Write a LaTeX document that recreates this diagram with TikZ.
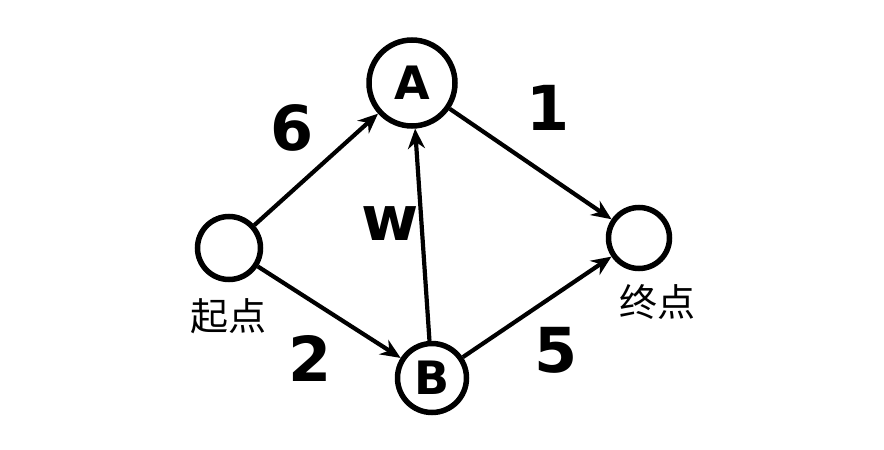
\documentclass[tikz,border=0pt]{standalone}
\usepackage{fontspec}
\setmainfont{DejaVu Sans}
\newfontfamily\cjk{Noto Sans CJK SC}
\usetikzlibrary{arrows.meta}
\begin{document}
\begin{tikzpicture}[x=1pt,y=-1pt,
  vtx/.style={circle,draw,line width=5.5pt,inner sep=0pt,font=\bfseries\fontsize{46}{46}\selectfont},
  edge/.style={line width=4.2pt,-{Stealth[length=20pt,width=17pt]}},
  lbl/.style={font=\bfseries\fontsize{62}{62}\selectfont,inner sep=0pt},
  cn/.style={font=\cjk\fontsize{38}{38}\selectfont,inner sep=0pt}
]
\useasboundingbox[fill=white] (0,0) rectangle (884,450);
\node[vtx,minimum size=63pt] (s) at (229,248) {};
\node[vtx,minimum size=86pt] (A) at (412,83) {A};
\node[vtx,minimum size=69pt] (B) at (432,378) {B};
\node[vtx,minimum size=61pt] (t) at (639,238) {};
\draw[edge] (s) -- (A);
\draw[edge] (s) -- (B);
\draw[edge] (A) -- (t);
\draw[edge] (B) -- (t);
\draw[edge] (B) -- (A);
\node[lbl] (l6) at (292,128) {6};
\node[lbl] (l1) at (548,108) {1};
\node[lbl] (lw) at (390,224) {w};
\node[lbl] (l2) at (310,358) {2};
\node[lbl] (l5) at (556,350) {5};
\node[cn] (cs) at (228,316) {起点};
\node[cn] (ct) at (657,302) {终点};
\end{tikzpicture}
\end{document}
